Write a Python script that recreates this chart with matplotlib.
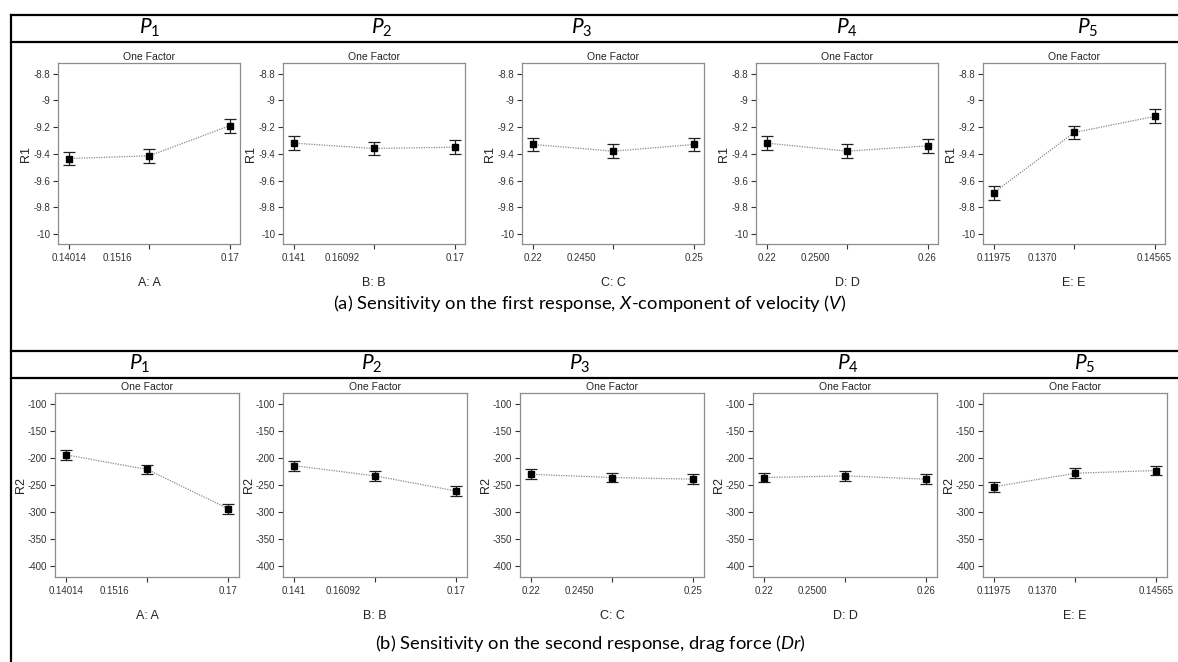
import matplotlib
matplotlib.use("Agg")
import matplotlib.pyplot as plt
from matplotlib.lines import Line2D
from matplotlib.ticker import FixedLocator, FixedFormatter

plt.rcParams['font.family'] = ['Liberation Sans', 'DejaVu Sans']
plt.rcParams['mathtext.fontset'] = 'custom'
plt.rcParams['mathtext.it'] = 'Lato:italic'
plt.rcParams['mathtext.rm'] = 'Lato'

# factor levels (low, centre, high) and the label Design-Expert prints in between
levels = [
    [0.14014, 0.15507, 0.17],
    [0.141, 0.15550, 0.17],
    [0.22, 0.235, 0.25],
    [0.22, 0.24, 0.26],
    [0.11975, 0.1327, 0.14565],
]
low_labels = ['0.14014', '0.141', '0.22', '0.22', '0.11975']
mid_labels = ['0.1516', '0.16092', '0.2450', '0.2500', '0.1370']
high_labels = ['0.17', '0.17', '0.25', '0.26', '0.14565']
factor_names = ['A: A', 'B: B', 'C: C', 'D: D', 'E: E']
headers = ['$P_{1}$', '$P_{2}$', '$P_{3}$', '$P_{4}$', '$P_{5}$']

# response 1: X-component of velocity
r1_mean = [
    [-9.435, -9.415, -9.19],
    [-9.32, -9.36, -9.35],
    [-9.33, -9.38, -9.33],
    [-9.32, -9.38, -9.34],
    [-9.69, -9.24, -9.12],
]
r1_err = 0.052
r1_ticks = [-8.8, -9, -9.2, -9.4, -9.6, -9.8, -10]
r1_ticklabels = ['-8.8', '-9', '-9.2', '-9.4', '-9.6', '-9.8', '-10']

# response 2: drag force
r2_mean = [
    [-194, -221, -294],
    [-214, -233, -261],
    [-230, -236, -239],
    [-236, -233, -239],
    [-253, -228, -223],
]
r2_err = 9
r2_ticks = [-100, -150, -200, -250, -300, -350, -400]

W, H = 1178, 662
fig = plt.figure(figsize=(W / 100, H / 100), dpi=100)


def px_axes(left, top, right, bottom):
    return fig.add_axes([left / W, 1 - bottom / H, (right - left) / W, (bottom - top) / H])


def draw_panel(ax, i, means, err, yticks, yticklabels, ylim, ylabel):
    x = levels[i]
    span = x[2] - x[0]
    ax.plot(x, means, color='#8a8a8a', lw=0.9, ls=(0, (1, 1)), zorder=2)
    ax.errorbar(x, means, yerr=err, fmt='s', ms=4, color='black', ecolor='#222222',
                elinewidth=0.9, capsize=4, capthick=0.9, zorder=3)
    ax.set_xlim(x[0] - 0.068 * span, x[2] + 0.065 * span)
    ax.set_ylim(*ylim)
    ax.set_xticks(x)
    ax.set_xticklabels([low_labels[i], '', high_labels[i]])
    mid_pos = x[0] + 0.6 * (x[1] - x[0])
    ax.xaxis.set_minor_locator(FixedLocator([mid_pos]))
    ax.xaxis.set_minor_formatter(FixedFormatter([mid_labels[i]]))
    ax.tick_params(axis='both', which='major', direction='out', length=3.5, width=0.8,
                   labelsize=7, colors='#333333', pad=2)
    ax.tick_params(axis='x', which='major', pad=3)
    ax.tick_params(axis='x', which='minor', length=0, labelsize=7, colors='#333333', pad=6.5)
    ax.set_yticks(yticks)
    ax.set_yticklabels(yticklabels)
    for s in ax.spines.values():
        s.set_color('#8c8c8c')
        s.set_linewidth(0.9)
    ax.set_title('One Factor', fontsize=7.5, color='#222222', pad=2)
    ax.set_xlabel(factor_names[i], fontsize=9, color='#222222', labelpad=10)
    ax.set_ylabel(ylabel, fontsize=9, color='#222222', labelpad=1)


top_lefts = [58, 283, 522, 756, 983]
bot_lefts = [55, 283, 520, 753, 983]

for i in range(5):
    ax = px_axes(top_lefts[i], 63, top_lefts[i] + 182, 244)
    draw_panel(ax, i, r1_mean[i], r1_err, r1_ticks, r1_ticklabels, (-10.075, -8.72), 'R1')
    ax = px_axes(bot_lefts[i], 393, bot_lefts[i] + 184, 577)
    draw_panel(ax, i, r2_mean[i], r2_err, r2_ticks, [str(t) for t in r2_ticks],
               (-420, -79.6), 'R2')


# frame lines of the figure table
def hline(y, x0=11, x1=W):
    fig.add_artist(Line2D([x0 / W, x1 / W], [1 - y / H, 1 - y / H], color='black', lw=1.6))


hline(15)
hline(42)
hline(351)
hline(378)
fig.add_artist(Line2D([11 / W, 11 / W], [1 - 15 / H, 0], color='black', lw=1.6))

top_hdr_x = [150, 382, 582, 847, 1088]
bot_hdr_x = [140, 372, 580, 848, 1085]
for i in range(5):
    fig.text(top_hdr_x[i] / W, 1 - 28 / H, headers[i], fontsize=15, ha='center', va='center')
    fig.text(bot_hdr_x[i] / W, 1 - 364 / H, headers[i], fontsize=15, ha='center', va='center')

fig.text(590 / W, 1 - 304 / H,
         '(a) Sensitivity on the first response, $\\mathit{X}$-component of velocity ($\\mathit{V}$)',
         fontsize=13.2, ha='center', va='center', family='Lato')
fig.text(590 / W, 1 - 643 / H,
         '(b) Sensitivity on the second response, drag force ($\\mathit{Dr}$)',
         fontsize=13.2, ha='center', va='center', family='Lato')

fig.savefig('out.png', dpi=100)
